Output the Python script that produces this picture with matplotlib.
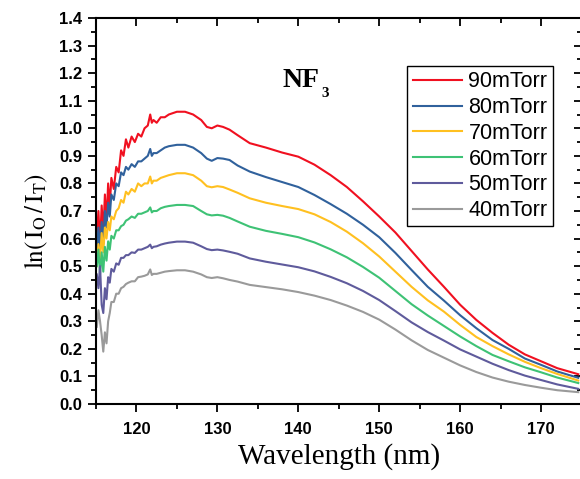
import matplotlib
matplotlib.use("Agg")
import matplotlib.pyplot as plt
import matplotlib.lines as mlines
from matplotlib.ticker import MultipleLocator, FormatStrFormatter
from matplotlib.transforms import offset_copy

wavelength = [115.1, 115.3, 115.5, 115.7, 115.9, 116.1, 116.3, 116.5, 116.7, 116.9,
              117.2, 117.5, 117.8, 118.1, 118.4, 118.7, 119.0,
              119.4, 119.8, 120.2, 120.6, 121.0, 121.4, 121.7, 121.9, 122.1, 122.5, 123.0, 123.5,
              124, 125, 126, 127, 128,
              128.7, 129.3, 130, 130.7, 131.5, 132.5,
              134, 136, 138, 140,
              142, 144, 146, 148, 150, 152, 154, 156, 158, 160, 162, 164, 166, 168, 170, 172, 174.6]

p90 = [0.60, 0.70, 0.58, 0.72, 0.62, 0.76, 0.66, 0.80, 0.72, 0.82,
       0.78, 0.86, 0.84, 0.92, 0.90, 0.96, 0.93,
       0.97, 0.95, 0.98, 0.97, 1.00, 1.01, 1.05, 1.02, 1.03, 1.02, 1.04, 1.04,
       1.05, 1.06, 1.06, 1.05, 1.03,
       1.005, 1.000, 1.010, 1.005, 0.995, 0.975,
       0.946, 0.930, 0.912, 0.897,
       0.868, 0.830, 0.787, 0.735, 0.680, 0.622, 0.555, 0.488, 0.425, 0.360, 0.305, 0.258,
       0.215, 0.180, 0.155, 0.130, 0.108]

p80 = [0.55, 0.64, 0.56, 0.66, 0.58, 0.70, 0.64, 0.73, 0.68, 0.76,
       0.74, 0.80, 0.79, 0.84, 0.83, 0.86, 0.85,
       0.87, 0.86, 0.88, 0.88, 0.89, 0.90, 0.925, 0.90, 0.91, 0.91, 0.92, 0.93,
       0.935, 0.94, 0.94, 0.93, 0.91,
       0.89, 0.882, 0.892, 0.89, 0.885, 0.865,
       0.843, 0.823, 0.805, 0.787,
       0.758, 0.725, 0.690, 0.650, 0.605, 0.548, 0.486, 0.425, 0.375, 0.322, 0.275, 0.232,
       0.200, 0.165, 0.142, 0.118, 0.095]

p70 = [0.50, 0.58, 0.52, 0.62, 0.55, 0.64, 0.60, 0.66, 0.63, 0.68,
       0.67, 0.70, 0.71, 0.74, 0.73, 0.77, 0.76,
       0.78, 0.77, 0.80, 0.79, 0.80, 0.80, 0.825, 0.80, 0.81, 0.81, 0.82, 0.825,
       0.83, 0.837, 0.837, 0.83, 0.81,
       0.79, 0.786, 0.79, 0.787, 0.778, 0.766,
       0.746, 0.73, 0.718, 0.707,
       0.688, 0.660, 0.625, 0.583, 0.535, 0.480, 0.425, 0.376, 0.335, 0.287, 0.243, 0.210,
       0.180, 0.153, 0.130, 0.109, 0.085]

p60 = [0.50, 0.56, 0.47, 0.55, 0.48, 0.57, 0.52, 0.59, 0.56, 0.61,
       0.60, 0.63, 0.63, 0.645, 0.65, 0.665, 0.67,
       0.68, 0.675, 0.69, 0.69, 0.695, 0.70, 0.713, 0.695, 0.70, 0.70, 0.71, 0.715,
       0.718, 0.722, 0.722, 0.718, 0.70,
       0.688, 0.684, 0.686, 0.683, 0.675, 0.662,
       0.643, 0.628, 0.617, 0.605,
       0.586, 0.561, 0.532, 0.497, 0.458, 0.410, 0.362, 0.321, 0.283, 0.245, 0.210, 0.178,
       0.155, 0.133, 0.115, 0.096, 0.076]

p50 = [0.47, 0.42, 0.50, 0.36, 0.33, 0.42, 0.38, 0.46, 0.44, 0.49,
       0.48, 0.51, 0.505, 0.53, 0.53, 0.54, 0.54,
       0.55, 0.548, 0.56, 0.56, 0.565, 0.57, 0.578, 0.565, 0.57, 0.572, 0.578, 0.582,
       0.585, 0.589, 0.589, 0.585, 0.572,
       0.562, 0.558, 0.56, 0.557, 0.552, 0.545,
       0.528, 0.516, 0.506, 0.496,
       0.481, 0.461, 0.438, 0.410, 0.377, 0.337, 0.296, 0.261, 0.230, 0.198, 0.172, 0.146,
       0.123, 0.103, 0.087, 0.071, 0.055]

p40 = [0.28, 0.34, 0.30, 0.25, 0.19, 0.26, 0.22, 0.30, 0.33, 0.37,
       0.37, 0.40, 0.40, 0.42, 0.425, 0.435, 0.44,
       0.445, 0.445, 0.46, 0.462, 0.465, 0.47, 0.488, 0.468, 0.472, 0.472, 0.476, 0.48,
       0.482, 0.485, 0.485, 0.48, 0.47,
       0.46, 0.457, 0.46, 0.456, 0.45, 0.444,
       0.432, 0.424, 0.416, 0.406,
       0.393, 0.377, 0.357, 0.334, 0.306, 0.270, 0.231, 0.196, 0.168, 0.140, 0.116, 0.096,
       0.081, 0.069, 0.059, 0.050, 0.043]

labels = ["90mTorr", "80mTorr", "70mTorr", "60mTorr", "50mTorr", "40mTorr"]
series = [p90, p80, p70, p60, p50, p40]
colors = ["#f01020", "#30619c", "#ffc020", "#3ec275", "#5f5b9c", "#9a9a9a"]

plt.rcParams['mathtext.fontset'] = 'stix'

fig = plt.figure(figsize=(5.8, 4.79), dpi=100)
ax = fig.add_axes([96/580, 1-404/479, (581.5-96)/580, (404-18)/479])

for vals, lab, c in zip(series, labels, colors):
    ax.plot(wavelength, vals, color=c, lw=1.5, label=lab)

ax.set_xlim(115, 175)
ax.set_ylim(0, 1.4)
ax.set_xticks([120, 130, 140, 150, 160, 170])
ax.xaxis.set_minor_locator(MultipleLocator(5))
ax.yaxis.set_major_locator(MultipleLocator(0.1))
ax.yaxis.set_minor_locator(MultipleLocator(0.05))
ax.yaxis.set_major_formatter(FormatStrFormatter('%.1f'))

for s in ax.spines.values():
    s.set_linewidth(1.5)

ax.tick_params(axis='both', which='major', length=6, width=1.3, direction='out',
               top=True, right=True, labelsize=12, pad=4)
ax.tick_params(axis='both', which='minor', length=3.5, width=1.3, direction='out',
               top=True, right=True)
ax.tick_params(axis='x', which='major', pad=7)

# top and right ticks point inward
for tick in ax.xaxis.get_major_ticks() + ax.xaxis.get_minor_ticks():
    tick.tick2line.set_marker(mlines.TICKDOWN)
for tick in ax.yaxis.get_major_ticks() + ax.yaxis.get_minor_ticks():
    tick.tick2line.set_marker(mlines.TICKLEFT)

for lab in ax.get_xticklabels() + ax.get_yticklabels():
    lab.set_fontfamily('Liberation Sans')
    lab.set_fontweight('bold')

ax.set_xlabel("Wavelength (nm)", family='Liberation Serif', fontsize=21, labelpad=4)
ax.set_ylabel(r"$\mathrm{ln(\,I_O\,/\,I_T)}$", fontsize=18)
ax.yaxis.set_label_coords((50 - 96) / 485.5, (404 - 221) / 386)

ax.text(138.0, 1.150, "NF", family='Liberation Serif', fontweight='bold',
        fontsize=20, ha='left', va='baseline')
ax.text(138.0, 1.150, "3", family='Liberation Serif', fontweight='bold', fontsize=11,
        ha='left', va='baseline',
        transform=offset_copy(ax.transData, fig=fig, x=28.5, y=-7.2, units='points'))

leg = ax.legend(loc='upper right', bbox_to_anchor=((553-96)/(581.5-96), (404-66)/386),
                borderaxespad=0, fancybox=False, edgecolor='black', framealpha=1,
                prop={'family': 'Liberation Sans', 'size': 15.5},
                handlelength=2.3, handletextpad=0.3, labelspacing=0.22, borderpad=0.25)
leg.get_frame().set_linewidth(1.0)

fig.savefig("out.png", dpi=100)
